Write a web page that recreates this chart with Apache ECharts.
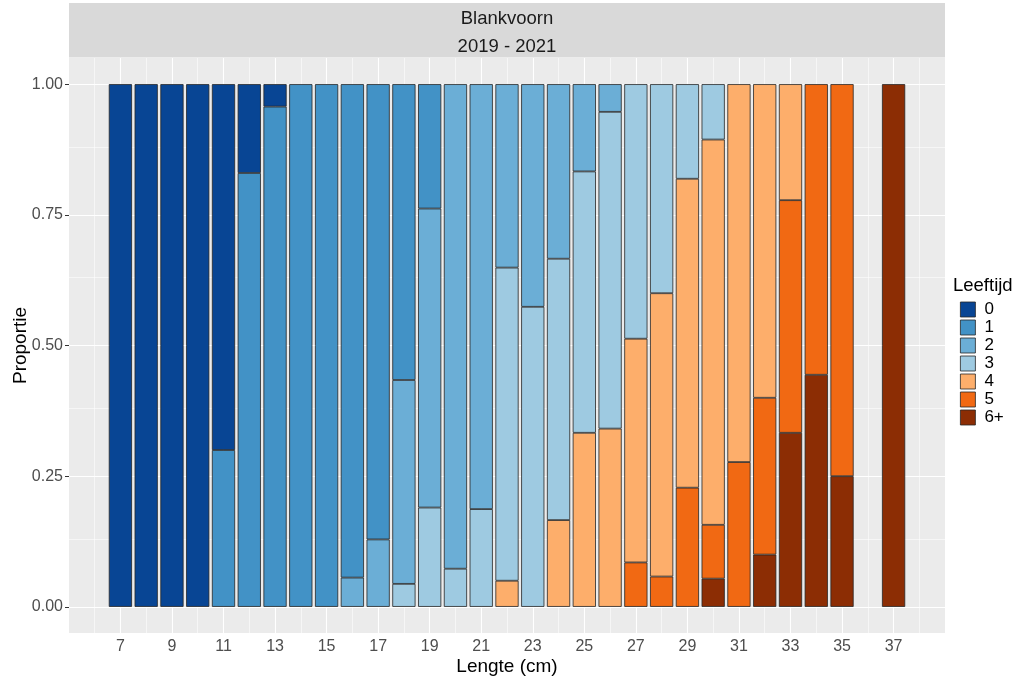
<!DOCTYPE html>
<html><head><meta charset="utf-8">
<script src="https://cdn.jsdelivr.net/npm/echarts@6/dist/echarts.min.js"></script>
<style>html,body{margin:0;padding:0;background:#fff}#c{width:1018px;height:677px}</style>
</head><body><div id="c"></div>
<script>
// ---- data ----
const lengths = [7,8,9,10,11,12,13,14,15,16,17,18,19,20,21,22,23,24,25,26,27,28,29,30,31,32,33,34,35,37];
const ageClasses = ['0','1','2','3','4','5','6+'];
//            7 8 9 10  11   12    13  14 15  16    17    18    19    20    21    22    23    24    25    26    27    28    29    30    31    32    33    34    35   37
const age0  = [1,1,1,1, 0.70,0.17,0.043,0,0, 0,    0,    0,    0,    0,    0,    0,    0,    0,    0,    0,    0,    0,    0,    0,    0,    0,    0,    0,    0,   0];
const age1  = [0,0,0,0, 0.30,0.83,0.957,1,1, 0.944,0.871,0.566,0.238,0,    0,    0,    0,    0,    0,    0,    0,    0,    0,    0,    0,    0,    0,    0,    0,   0];
const age2  = [0,0,0,0, 0,   0,   0,    0,0, 0.056,0.129,0.390,0.572,0.927,0.813,0.351,0.426,0.334,0.167,0.053,0,    0,    0,    0,    0,    0,    0,    0,    0,   0];
const age3  = [0,0,0,0, 0,   0,   0,    0,0, 0,    0,    0.044,0.190,0.073,0.187,0.599,0.574,0.500,0.500,0.606,0.487,0.400,0.181,0.106,0,    0,    0,    0,    0,   0];
const age4  = [0,0,0,0, 0,   0,   0,    0,0, 0,    0,    0,    0,    0,    0,    0.050,0,    0.166,0.333,0.341,0.428,0.542,0.591,0.737,0.723,0.600,0.222,0,    0,   0];
const age5  = [0,0,0,0, 0,   0,   0,    0,0, 0,    0,    0,    0,    0,    0,    0,    0,    0,    0,    0,    0.085,0.058,0.228,0.103,0.277,0.300,0.445,0.556,0.750,0];
const age6p = [0,0,0,0, 0,   0,   0,    0,0, 0,    0,    0,    0,    0,    0,    0,    0,    0,    0,    0,    0,    0,    0,    0.054,0,    0.100,0.333,0.444,0.250,1];
const ageValues = [age0, age1, age2, age3, age4, age5, age6p];
const xTicks = [7,9,11,13,15,17,19,21,23,25,27,29,31,33,35,37];
const yTicks = [0,0.25,0.5,0.75,1];

// ---- styling ----
const colors = ['#084594','#4292C6','#6BAED6','#9ECAE1','#FDAE6B','#F16913','#8C2D04'];
const FONT = '"Liberation Sans", Arial, sans-serif';
const G = {left: 69, top: 58, width: 876, height: 575};
const X_MIN = 5.005, X_MAX = 38.995, Y_MIN = -0.05, Y_MAX = 1.05;
const barW = 0.9 * G.width / (X_MAX - X_MIN);

// grid lines (major at ticks, minor midway) drawn through the axes via markLine
const xMinor = [xTicks[0] - 1];
for (let i = 0; i < xTicks.length - 1; i++) xMinor.push((xTicks[i] + xTicks[i + 1]) / 2);
xMinor.push(xTicks[xTicks.length - 1] + 1);
const yMinor = [];
for (let i = 0; i < yTicks.length - 1; i++) yMinor.push((yTicks[i] + yTicks[i + 1]) / 2);
const gridLines = [];
xMinor.forEach(v => gridLines.push({xAxis: v, lineStyle: {width: 0.55}}));
yMinor.forEach(v => gridLines.push({yAxis: v, lineStyle: {width: 0.55}}));
xTicks.forEach(v => gridLines.push({xAxis: v, lineStyle: {width: 1.1}}));
yTicks.forEach(v => gridLines.push({yAxis: v, lineStyle: {width: 1.1}}));

const series = [];
for (let k = ageClasses.length - 1; k >= 0; k--) {
  const s = {
    name: ageClasses[k],
    type: 'bar',
    stack: 'prop',
    barWidth: barW,
    z: 3,
    encode: {x: 1, y: 0},
    itemStyle: {color: colors[k], borderColor: '#262626', borderWidth: 0.8},
    data: lengths.map((L, i) => [ageValues[k][i] > 0 ? ageValues[k][i] : '-', L])
  };
  if (k === ageClasses.length - 1) {
    s.markLine = {
      silent: true, z: 1, symbol: ['none', 'none'], animation: false,
      label: {show: false}, emphasis: {disabled: true},
      lineStyle: {color: '#FFFFFF', type: 'solid'},
      data: gridLines
    };
  }
  series.push(s);
}

const chart = echarts.init(document.getElementById('c'), null, {renderer: 'canvas'});
chart.setOption({
  animation: false,
  backgroundColor: '#FFFFFF',
  textStyle: {fontFamily: FONT},
  graphic: [{
    type: 'rect', z: -1,
    shape: {x: G.left, y: 3, width: G.width, height: 54.5},
    style: {fill: '#D9D9D9'}
  }],
  title: [
    {text: 'Blankvoorn', left: G.left + G.width / 2, top: 9.5, textAlign: 'center', padding: 0,
     textStyle: {fontFamily: FONT, fontSize: 18.5, fontWeight: 'normal', color: '#1A1A1A'}},
    {text: '2019 - 2021', left: G.left + G.width / 2, top: 37, textAlign: 'center', padding: 0,
     textStyle: {fontFamily: FONT, fontSize: 18.5, fontWeight: 'normal', color: '#1A1A1A'}},
    {text: 'Leeftijd', left: 953, top: 276, padding: 0,
     textStyle: {fontFamily: FONT, fontSize: 18.5, fontWeight: 'normal', color: '#000000'}}
  ],
  grid: {left: G.left, top: G.top, width: G.width, height: G.height, show: true,
         backgroundColor: '#EBEBEB', borderWidth: 0, containLabel: false, outerBoundsMode: 'none'},
  xAxis: {
    type: 'value', min: X_MIN, max: X_MAX,
    name: 'Lengte (cm)', nameLocation: 'middle', nameGap: 24, nameMoveOverlap: false,
    nameTextStyle: {fontFamily: FONT, fontSize: 19, color: '#000000'},
    axisLine: {show: false},
    axisTick: {show: true, customValues: xTicks, length: 4, lineStyle: {color: '#333333', width: 1}},
    axisLabel: {customValues: xTicks, fontFamily: FONT, fontSize: 16, color: '#4D4D4D', margin: 6},
    splitLine: {show: false}
  },
  yAxis: {
    type: 'value', min: Y_MIN, max: Y_MAX,
    name: 'Proportie', nameLocation: 'middle', nameGap: 39, nameMoveOverlap: false,
    nameTextStyle: {fontFamily: FONT, fontSize: 19, color: '#000000'},
    axisLine: {show: false},
    axisTick: {show: true, customValues: yTicks, length: 4, lineStyle: {color: '#333333', width: 1}},
    axisLabel: {customValues: yTicks, fontFamily: FONT, fontSize: 16, color: '#4D4D4D', margin: 6,
                formatter: v => v.toFixed(2)},
    splitLine: {show: false}
  },
  legend: {
    data: ageClasses, orient: 'vertical', left: 960, top: 301, padding: 0,
    itemWidth: 15, itemHeight: 15, itemGap: 1, icon: 'rect', selectedMode: false,
    itemStyle: {borderColor: '#262626', borderWidth: 0.8},
    textStyle: {fontFamily: FONT, fontSize: 17, color: '#000000', lineHeight: 15, padding: [0, 0, 0, 4]}
  },
  series: series
});
</script>
</body></html>
